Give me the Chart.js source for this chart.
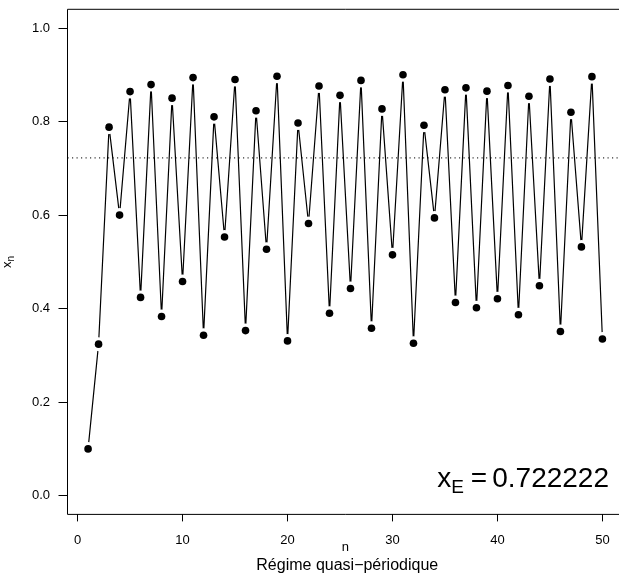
<!DOCTYPE html>
<html lang="fr">
<head>
<meta charset="UTF-8">
<title>Régime quasi-périodique</title>
<script src="https://cdn.jsdelivr.net/npm/chart.js"></script>
<style>
    html, body {
        margin: 0;
        padding: 0;
        background: #fff;
        overflow: hidden;
    }
    .wrap {
        width: 630px;
        height: 580px;
    }
</style>
</head>
<body>
<div class="wrap"><canvas id="suite"></canvas></div>
<script>
// iterations and the values of the sequence
var n = [1, 2, 3, 4, 5, 6, 7, 8, 9, 10,
         11, 12, 13, 14, 15, 16, 17, 18, 19, 20,
         21, 22, 23, 24, 25, 26, 27, 28, 29, 30,
         31, 32, 33, 34, 35, 36, 37, 38, 39, 40,
         41, 42, 43, 44, 45, 46, 47, 48, 49, 50];
var xn = [0.100, 0.324, 0.788, 0.600, 0.864, 0.424, 0.879, 0.383, 0.850, 0.458,
          0.894, 0.343, 0.810, 0.553, 0.890, 0.353, 0.823, 0.527, 0.897, 0.331,
          0.797, 0.582, 0.876, 0.390, 0.856, 0.443, 0.888, 0.358, 0.827, 0.515,
          0.900, 0.326, 0.792, 0.594, 0.868, 0.413, 0.872, 0.402, 0.865, 0.421,
          0.877, 0.387, 0.854, 0.449, 0.891, 0.351, 0.820, 0.532, 0.896, 0.335];
var xE = 0.722222;          // fixed point

var xTicks = [0, 10, 20, 30, 40, 50];
var yTicks = [0, 0.2, 0.4, 0.6, 0.8, 1.0];
var xRange = [-0.96, 51.96];
var yRange = [-0.04, 1.04];

var FONT = "'Liberation Sans', Arial, Helvetica, sans-serif";
Chart.defaults.font.family = FONT;
Chart.defaults.font.size = 13;
Chart.defaults.color = '#000';

var points = n.map(function (v, i) { return { x: v, y: xn[i] }; });
var eqLine = [{ x: xRange[0], y: xE }, { x: xRange[1], y: xE }];

// box, axis captions and the x_E label
var decor = {
    id: 'decor',
    afterDraw: function (chart) {
        var ctx = chart.ctx;
        var a = chart.chartArea;
        var midX = (a.left + a.right) / 2;
        var midY = (a.top + a.bottom) / 2;
        ctx.save();

        // the right side of the box lies past the visible page
        ctx.strokeStyle = '#000';
        ctx.lineWidth = 1;
        ctx.beginPath();
        ctx.moveTo(a.right, a.top);
        ctx.lineTo(a.left, a.top);
        ctx.lineTo(a.left, a.bottom);
        ctx.lineTo(a.right, a.bottom);
        ctx.stroke();

        ctx.fillStyle = '#000';
        ctx.textAlign = 'center';
        ctx.textBaseline = 'middle';
        ctx.font = '13px ' + FONT;
        ctx.fillText('n', midX, a.bottom + 33);
        ctx.font = '16px ' + FONT;
        ctx.fillText('Régime quasi\u2212périodique', midX + 2, a.bottom + 51);

        // y caption x_n, rotated
        ctx.translate(10.5, midY);
        ctx.rotate(-Math.PI / 2);
        ctx.textAlign = 'left';
        ctx.textBaseline = 'alphabetic';
        ctx.font = '13px ' + FONT;
        var wx = ctx.measureText('x').width;
        ctx.font = '10px ' + FONT;
        var wn = ctx.measureText('n').width;
        var x0 = -(wx + wn) / 2;
        ctx.font = '13px ' + FONT;
        ctx.fillText('x', x0, 0);
        ctx.font = '10px ' + FONT;
        ctx.fillText('n', x0 + wx, 3);
        ctx.restore();

        // x_E = 0.722222 in the lower right corner
        ctx.save();
        ctx.fillStyle = '#000';
        ctx.textBaseline = 'alphabetic';
        ctx.textAlign = 'right';
        var right = a.right - 14;
        var base = a.bottom - 27;
        ctx.font = '28px ' + FONT;
        var num = xE.toFixed(6);
        ctx.fillText(num, right, base);
        var p = right - ctx.measureText(num).width - 5;
        ctx.fillText('=', p, base);
        p -= ctx.measureText('=').width + 7;
        ctx.font = '19px ' + FONT;
        ctx.fillText('E', p, base + 6);
        p -= ctx.measureText('E').width;
        ctx.font = '28px ' + FONT;
        ctx.fillText('x', p, base);
        ctx.restore();
    }
};

var ctx = document.getElementById('suite').getContext('2d');
var chart = new Chart(ctx, {
    type: 'line',
    data: {
        datasets: [{
            // dotted line at the fixed point
            data: eqLine,
            borderColor: '#000',
            borderWidth: 1,
            borderDash: [1.2, 3.3],
            pointRadius: 0,
            order: 0
        }, {
            data: points,
            showLine: false,
            pointRadius: 3.8,
            pointBackgroundColor: '#000',
            pointBorderWidth: 0,
            order: 1
        }, {
            // white discs cut the segments around each point
            data: points,
            showLine: false,
            pointRadius: 7,
            pointBackgroundColor: '#fff',
            pointBorderWidth: 0,
            order: 2
        }, {
            data: points,
            borderColor: '#000',
            borderWidth: 1.2,
            pointRadius: 0,
            tension: 0,
            order: 3
        }]
    },
    options: {
        responsive: true,
        maintainAspectRatio: false,
        animation: false,
        layout: { padding: { top: 9.3, right: 7, left: 0, bottom: 0 } },
        plugins: {
            legend: { display: false },
            tooltip: { enabled: false }
        },
        scales: {
            x: {
                type: 'linear',
                min: xRange[0],
                max: xRange[1],
                afterBuildTicks: function (s) {
                    s.ticks = xTicks.map(function (v) { return { value: v }; });
                },
                afterFit: function (s) {
                    s.height = 65.6;
                    s.paddingLeft = 0;
                    s.paddingRight = 0;
                },
                ticks: {
                    padding: 11,
                    maxRotation: 0,
                    font: { size: 13 },
                    callback: function (v) { return String(v); }
                },
                grid: {
                    drawOnChartArea: false,
                    tickLength: 7,
                    tickColor: '#000',
                    color: '#000'
                },
                border: { display: false }
            },
            y: {
                min: yRange[0],
                max: yRange[1],
                afterBuildTicks: function (s) {
                    s.ticks = yTicks.map(function (v) { return { value: v }; });
                },
                afterFit: function (s) {
                    s.width = 67.5;
                    s.paddingTop = 0;
                    s.paddingBottom = 0;
                },
                ticks: {
                    padding: 8.5,
                    font: { size: 13 },
                    callback: function (v) { return v.toFixed(1); }
                },
                grid: {
                    drawOnChartArea: false,
                    tickLength: 9,
                    tickColor: '#000',
                    color: '#000'
                },
                border: { display: false }
            }
        }
    },
    plugins: [decor]
});
</script>
</body>
</html>
